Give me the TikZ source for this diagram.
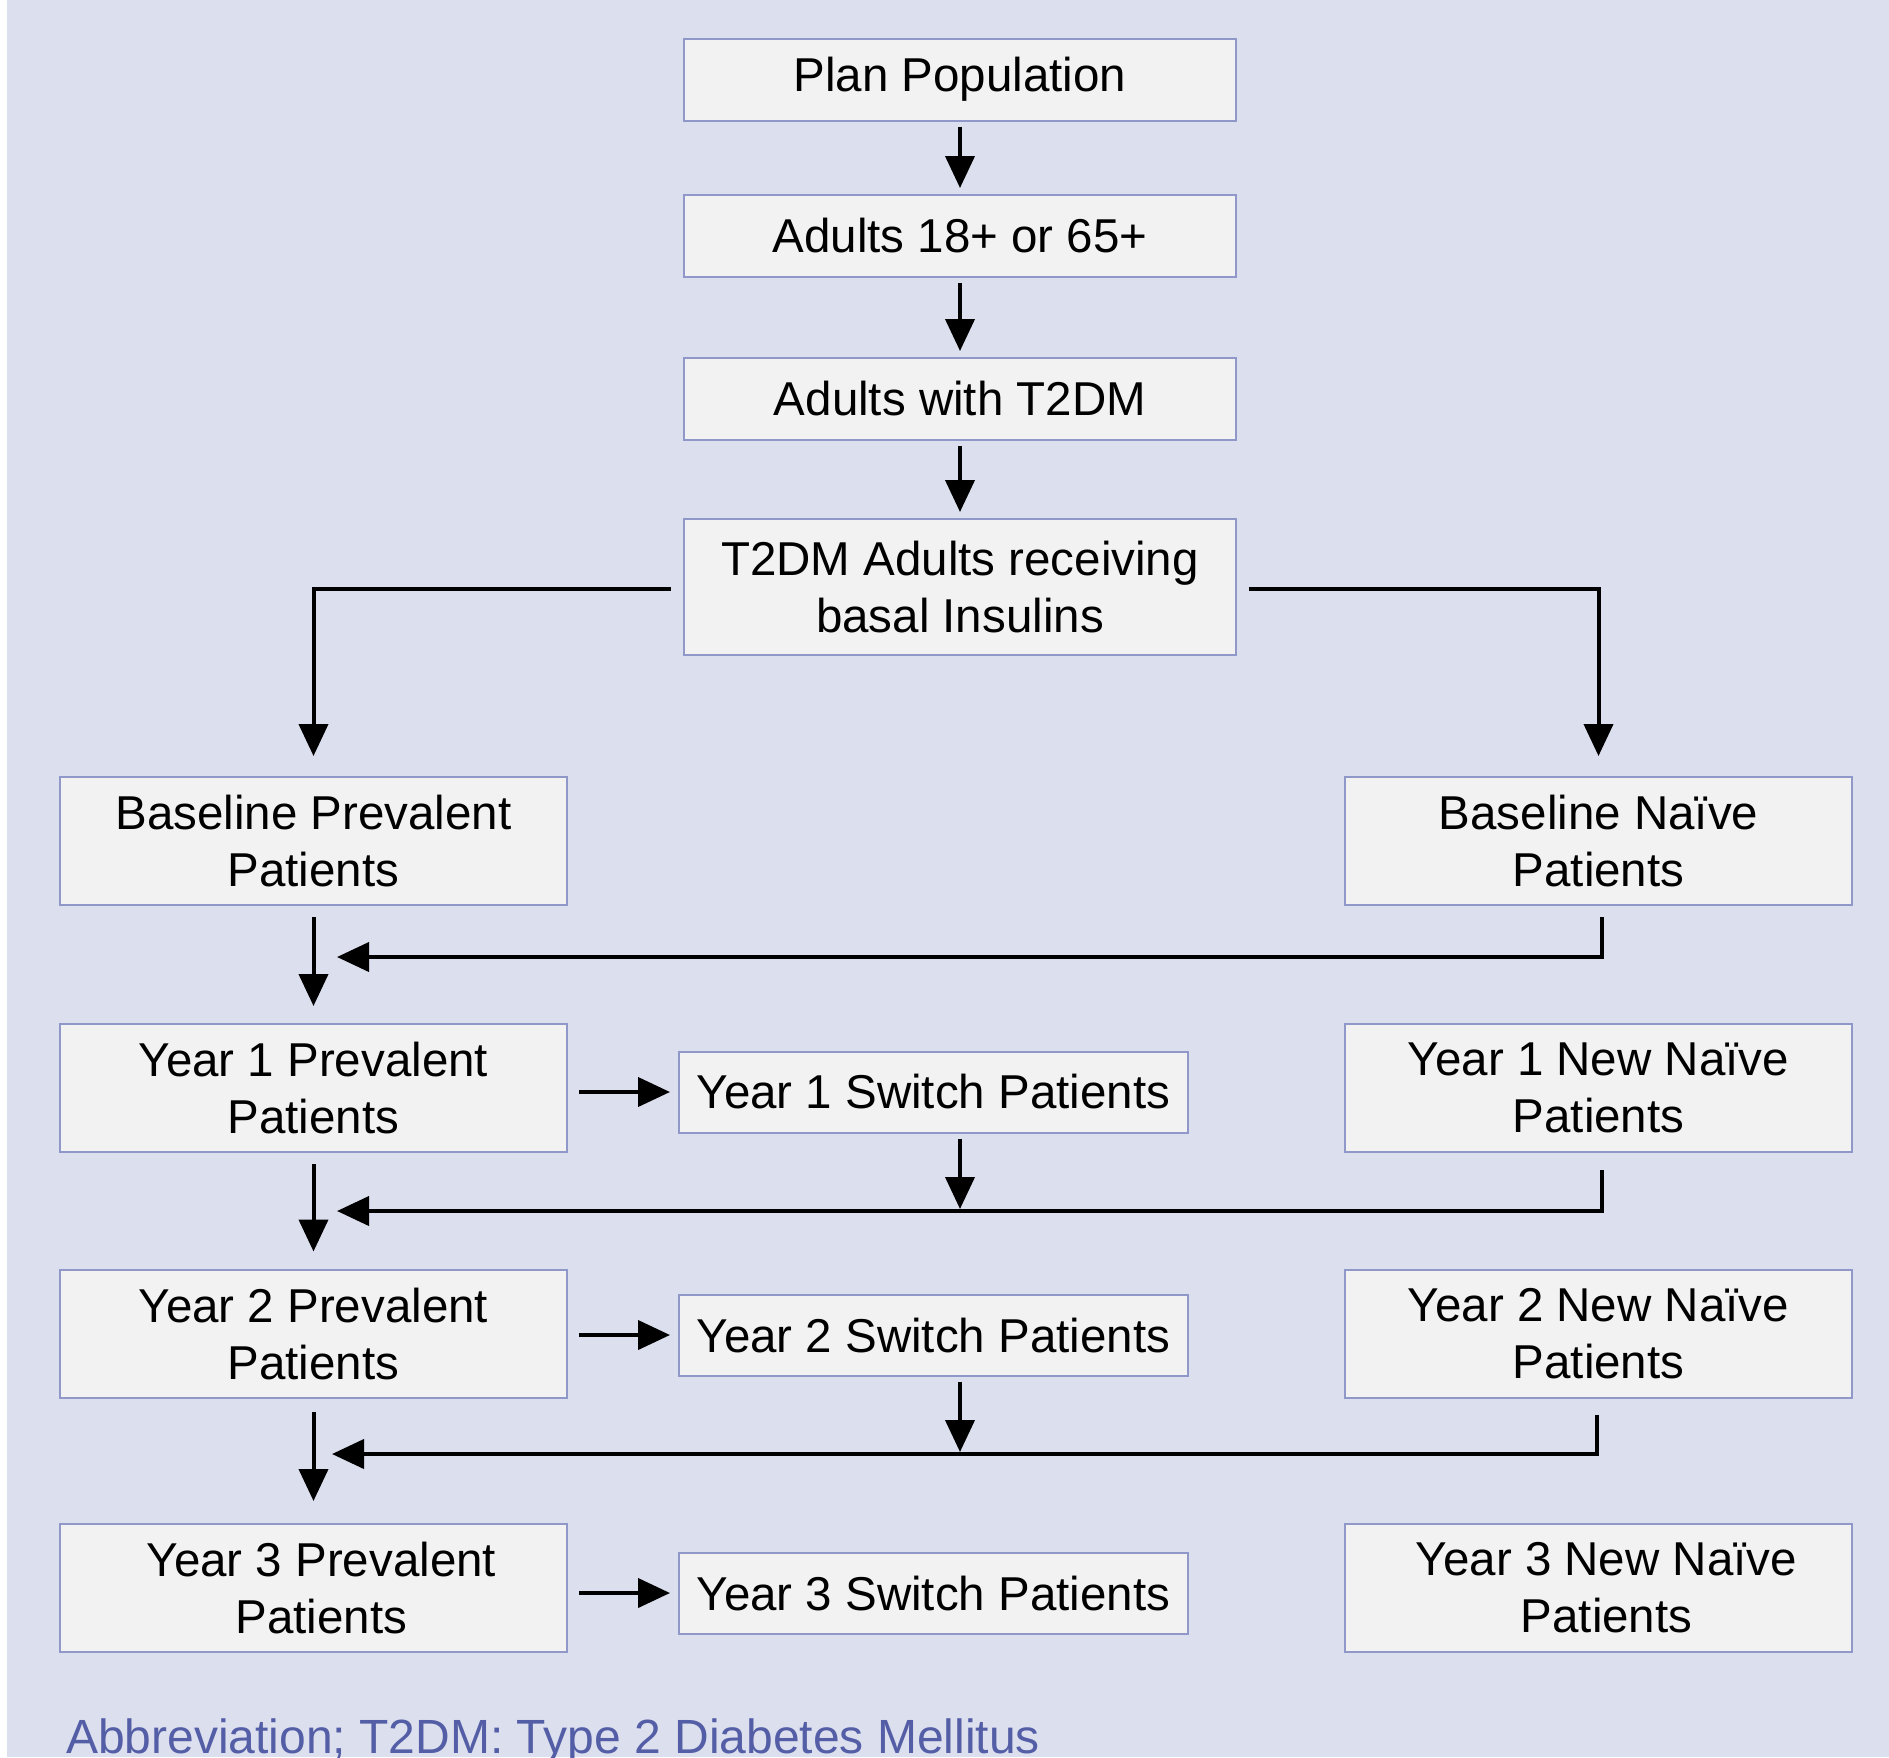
\documentclass[tikz,border=0pt]{standalone}
\usepackage{fontspec}
\setmainfont{Liberation Sans}
\usepackage{tikz}
\usepackage{xcolor}
\usetikzlibrary{arrows.meta, positioning, calc}

\definecolor{bgcol}{RGB}{220,223,237}
\definecolor{boxfill}{RGB}{242,242,242}
\definecolor{boxline}{RGB}{143,152,201}
\definecolor{notecol}{RGB}{83,94,166}

\begin{document}
\begin{tikzpicture}[x=1pt, y=-1pt,
    flowbox/.style={draw=boxline, fill=boxfill, line width=2pt, align=center,
        inner sep=0pt, font=\fontsize{47.5}{57}\selectfont},
    topbox/.style={flowbox, minimum width=552pt, minimum height=82pt},
    sidebox/.style={flowbox, minimum width=507pt, minimum height=128pt},
    switchbox/.style={flowbox, minimum width=509pt, minimum height=81pt},
    arr/.style={line width=4pt, -{Triangle[width=29pt,length=32pt]}}]
% Background
\useasboundingbox (0,0) rectangle (1889,1757);
\fill[white] (0,0) rectangle (1889,1757);
\fill[bgcol] (7,0) rectangle (1889,1757);

% Top column
\node[topbox] (plan) at (960,79.5) {Plan Population};
\node[topbox] (adults) at (960,236) {Adults 18+ or 65+};
\node[topbox] (t2dm) at (960,399) {Adults with T2DM};
\node[topbox, minimum height=136pt] (basal) at (960,587) {T2DM Adults receiving\\basal Insulins};

% Baseline row
\node[sidebox] (basePrev) at (313.5,841) {Baseline Prevalent\\Patients};
\node[sidebox] (baseNaive) at (1598.5,841) {Baseline Naïve\\Patients};

% Yearly rows (last row has its text set a little to the right)
\foreach \n/\y/\s/\d in {1/1088/1092/0, 2/1333.5/1335/0, 3/1588/1593/16} {
    \node[sidebox] (y\n Prev) at (313.5,\y)
        {\hspace*{\d pt}Year \n\ Prevalent\\\hspace*{\d pt}Patients};
    \node[switchbox] (y\n Switch) at (933.5,\s) {Year \n\ Switch Patients};
    \node[sidebox] (y\n Naive) at (1598.5,\y)
        {\hspace*{\d pt}Year \n\ New Naïve\\\hspace*{\d pt}Patients};
}

% Merge points
\coordinate (m0) at (337,957);
\coordinate (m1) at (337,1211);
\coordinate (m2) at (332,1454);
\coordinate (s1) at (960,1209);
\coordinate (s2) at (960,1452);

% Connectors
\draw[arr, shorten <=5pt, shorten >=6pt] (plan) -- (adults);
\draw[arr, shorten <=5pt, shorten >=6pt] (adults) -- (t2dm);
\draw[arr, shorten <=5pt, shorten >=6pt] (t2dm) -- (basal);
\draw[arr, shorten <=12pt, shorten >=20pt] ([yshift=-2pt]basal.west) -| (basePrev.north);
\draw[arr, shorten <=12pt, shorten >=20pt] ([yshift=-2pt]basal.east) -| (baseNaive.north);

\draw[arr, shorten <=11pt, shorten >=17pt] (basePrev) -- (y1Prev);
\draw[arr, shorten <=11pt, shorten >=17pt] (y1Prev) -- (y2Prev);
\draw[arr, shorten <=13pt, shorten >=22pt] (y2Prev) -- (y3Prev);

\draw[arr, shorten <=11pt] ([xshift=3pt]baseNaive.south) |- (m0);
\draw[arr, shorten <=17pt] ([xshift=3pt]y1Naive.south) |- (m1);
\draw[arr, shorten <=16pt] ([xshift=-1.5pt]y2Naive.south) |- (m2);

\foreach \n in {1,2,3} {
    \draw[arr, shorten <=11pt, shorten >=8pt] (y\n Prev.east |- y\n Switch) -- (y\n Switch.west);
}
\draw[arr, shorten <=5pt] (plan |- y1Switch.south) -- (s1);
\draw[arr, shorten <=5pt] (plan |- y2Switch.south) -- (s2);

% Footnote
\node[anchor=base west, text=notecol, inner sep=0pt, font=\fontsize{48}{57}\selectfont]
    (note) at (66,1753) {Abbreviation; T2DM: Type 2 Diabetes Mellitus};
\end{tikzpicture}
\end{document}
